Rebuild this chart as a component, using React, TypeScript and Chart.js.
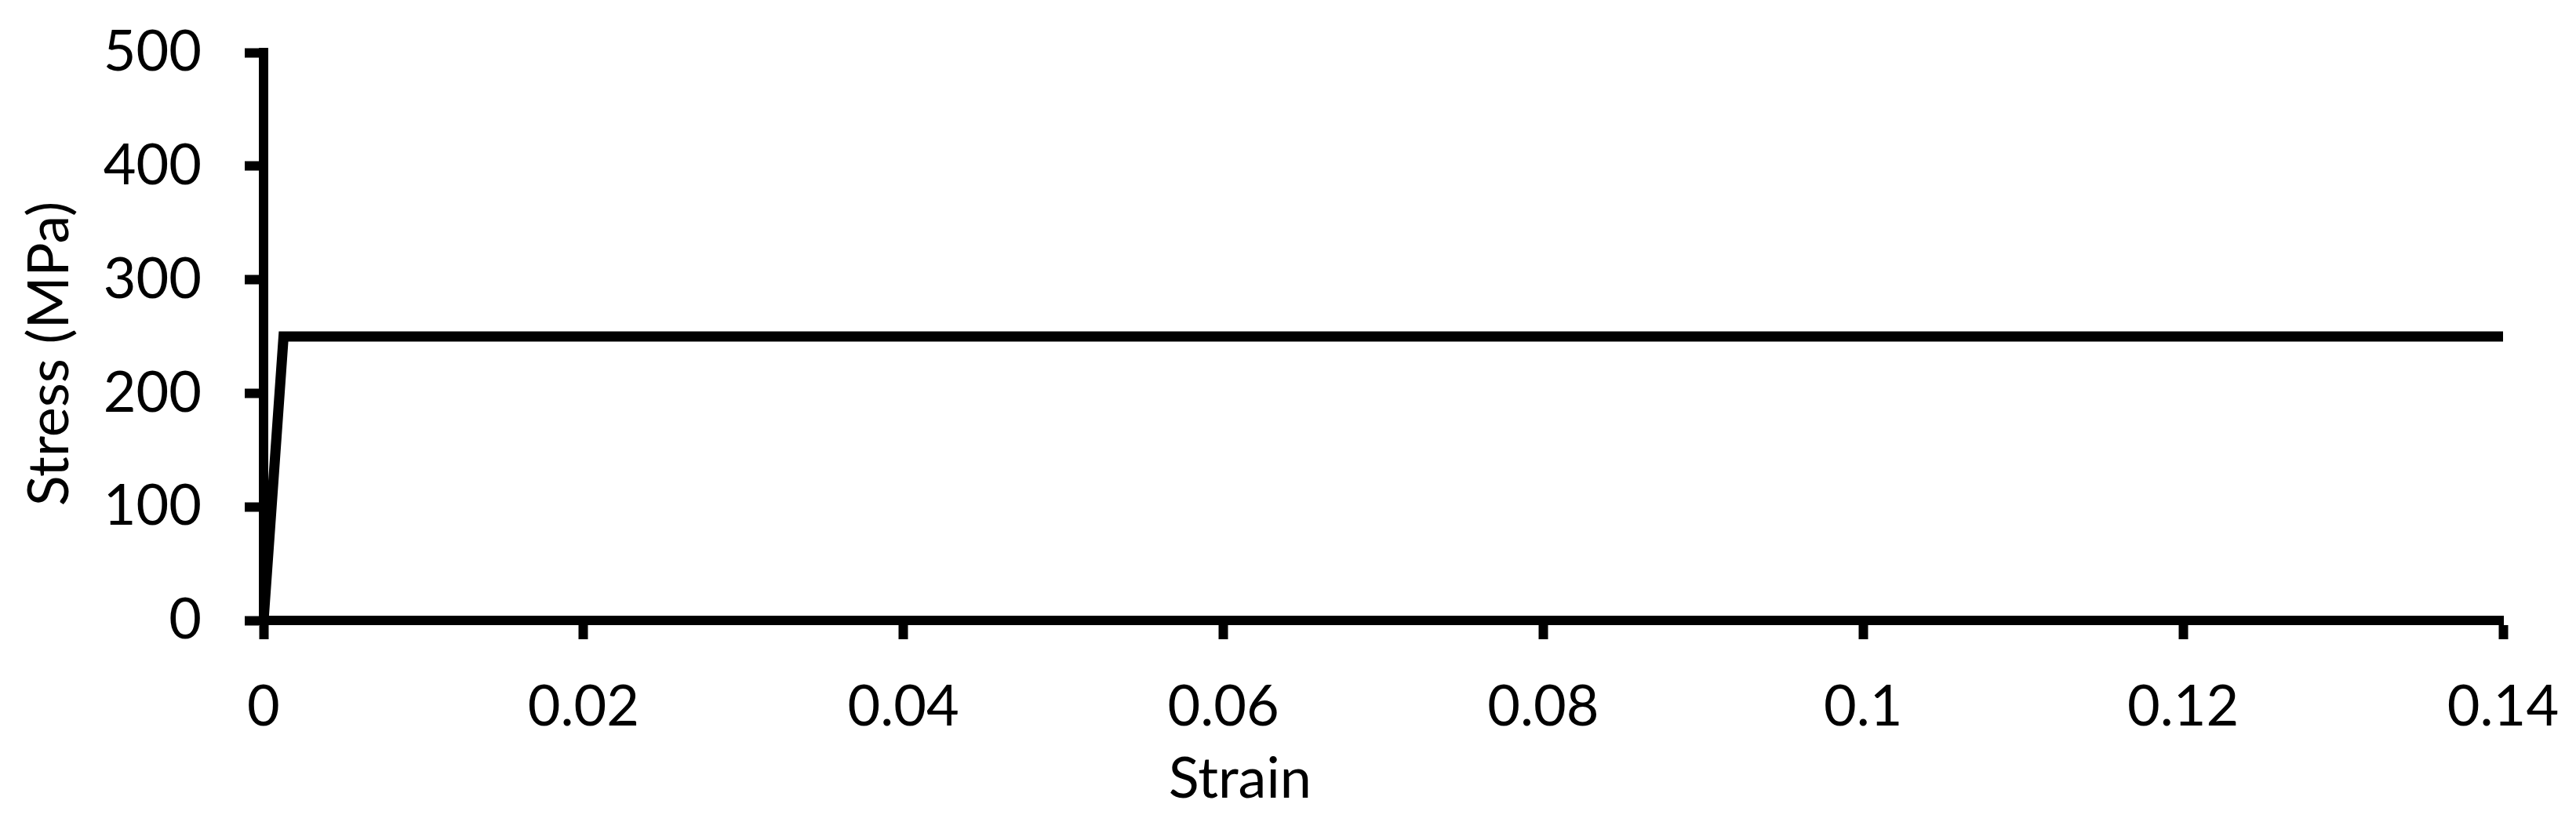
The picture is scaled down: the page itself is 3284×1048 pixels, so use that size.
import React, { useEffect, useRef } from "react";
import { Chart, registerables } from "chart.js";

Chart.register(...registerables);

// ---- data ----
const strainValues = [0, 0.00125, 0.14];
const stressValues = [0, 250, 250];
const xTickValues = [0, 0.02, 0.04, 0.06, 0.08, 0.1, 0.12, 0.14];
const xTickLabels = ["0", "0.02", "0.04", "0.06", "0.08", "0.1", "0.12", "0.14"];
const yTickValues = [0, 100, 200, 300, 400, 500];
const yTickLabels = ["0", "100", "200", "300", "400", "500"];
const xAxisTitle = "Strain";
const yAxisTitle = "Stress (MPa)";

const W = 3284;
const H = 1048;
const FONT_FAMILY = "Lato, Carlito, 'Open Sans', sans-serif";
const FONT_SIZE = 72;

function zeroPadding(scale: any) {
  scale.paddingTop = 0;
  scale.paddingBottom = 0;
  scale.paddingLeft = 0;
  scale.paddingRight = 0;
}

export default function App() {
  const canvasRef = useRef<HTMLCanvasElement | null>(null);

  useEffect(() => {
    document.body.style.margin = "0";
    const canvas = canvasRef.current;
    if (!canvas) return;

    const titlesPlugin = {
      id: "axisTitles",
      afterDraw(chart: any) {
        const { ctx, chartArea } = chart;
        ctx.save();
        ctx.fillStyle = "#000";
        ctx.font = `${FONT_SIZE}px ${FONT_FAMILY}`;
        ctx.textAlign = "center";
        ctx.textBaseline = "alphabetic";
        const xc = chartArea.left + (chartArea.right - chartArea.left) * 0.436;
        ctx.fillText(xAxisTitle, xc, chartArea.bottom + 226);
        ctx.translate(chartArea.left - 249, (chartArea.top + chartArea.bottom) / 2 + 22);
        ctx.rotate(-Math.PI / 2);
        ctx.fillText(yAxisTitle, 0, 0);
        ctx.restore();
      },
    };

    const chart = new Chart(canvas, {
      type: "line",
      data: {
        datasets: [
          {
            data: strainValues.map((x, i) => ({ x, y: stressValues[i] })),
            borderColor: "#000",
            borderWidth: 13,
            pointRadius: 0,
            tension: 0,
            fill: false,
            borderJoinStyle: "miter",
            borderCapStyle: "butt",
          },
        ],
      },
      options: {
        responsive: false,
        animation: false,
        devicePixelRatio: 1,
        layout: { padding: { left: 0, top: 67, right: 93, bottom: 0 } },
        plugins: { legend: { display: false }, tooltip: { enabled: false } },
        scales: {
          x: {
            type: "linear",
            min: xTickValues[0],
            max: xTickValues[xTickValues.length - 1],
            afterBuildTicks: (scale: any) => {
              scale.ticks = xTickValues.map((v) => ({ value: v }));
            },
            afterFit: (scale: any) => {
              scale.height = 257;
              zeroPadding(scale);
            },
            ticks: {
              color: "#000",
              font: { family: FONT_FAMILY, size: FONT_SIZE },
              padding: 44,
              maxRotation: 0,
              autoSkip: false,
              callback: (_v: any, i: number) => xTickLabels[i],
            },
            grid: {
              drawOnChartArea: false,
              drawTicks: true,
              tickLength: 24,
              tickWidth: 12,
              tickColor: "#000",
            },
            border: { display: true, color: "#000", width: 12 },
          },
          y: {
            type: "linear",
            min: yTickValues[0],
            max: yTickValues[yTickValues.length - 1],
            afterBuildTicks: (scale: any) => {
              scale.ticks = yTickValues.map((v) => ({ value: v }));
            },
            afterFit: (scale: any) => {
              scale.width = 336;
              zeroPadding(scale);
            },
            ticks: {
              color: "#000",
              font: { family: FONT_FAMILY, size: FONT_SIZE },
              padding: 55,
              autoSkip: false,
              callback: (_v: any, i: number) => yTickLabels[i],
            },
            grid: {
              drawOnChartArea: false,
              drawTicks: true,
              tickLength: 24,
              tickWidth: 12,
              tickColor: "#000",
            },
            border: { display: true, color: "#000", width: 12 },
          },
        },
      },
      plugins: [titlesPlugin],
    } as any);

    return () => chart.destroy();
  }, []);

  return (
    <div style={{ width: W, height: H, background: "#fff" }}>
      <canvas ref={canvasRef} width={W} height={H} style={{ display: "block", width: W, height: H }} />
    </div>
  );
}
